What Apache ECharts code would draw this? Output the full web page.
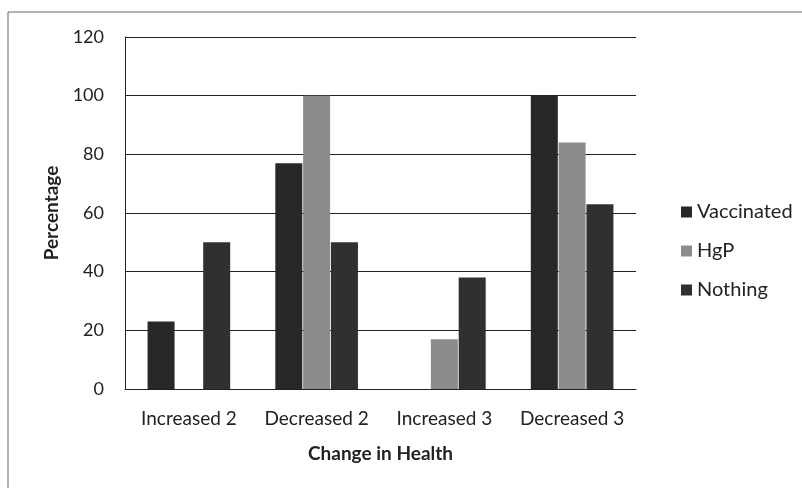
<!DOCTYPE html>
<html><head><meta charset="utf-8">
<script src="https://cdn.jsdelivr.net/npm/echarts@6/dist/echarts.min.js"></script>
<style>html,body{margin:0;padding:0;background:#fff}#c{width:802px;height:488px}</style>
</head><body><div id="c"></div>
<script>
const categories = ['Increased 2', 'Decreased 2', 'Increased 3', 'Decreased 3'];
const vaccinated = [23, 77, 0, 100];
const hgp = [0, 100, 17, 84];
const nothing = [50, 50, 38, 63];
const seriesNames = ['Vaccinated', 'HgP', 'Nothing'];
const colors = ['#282828', '#8c8c8c', '#303030'];
const font = 'Lato, "Open Sans", sans-serif';

const chart = echarts.init(document.getElementById('c'));
const mk = (name, data, i) => ({
  name, type: 'bar', data: data.map(v => v === 0 ? null : v),
  barWidth: 27, barGap: '3%',
  itemStyle: { color: colors[i] }
});
chart.setOption({
  animation: false,
  textStyle: { fontFamily: font },
  graphic: [{ type: 'rect', shape: { x: 8, y: 12, width: 900, height: 600 },
    style: { fill: 'none', stroke: '#666', lineWidth: 1 } }],
  grid: { left: 125, right: 166, top: 37, bottom: 99 },
  legend: {
    orient: 'vertical', left: 676, top: 197, itemGap: 19,
    itemWidth: 11, itemHeight: 11, icon: 'rect',
    textStyle: { fontSize: 20, color: '#222', fontFamily: font },
    data: seriesNames
  },
  xAxis: {
    type: 'category', data: categories,
    name: 'Change in Health', nameLocation: 'middle', nameGap: 55,
    nameTextStyle: { fontSize: 19, fontWeight: 'bold', color: '#222' },
    axisLine: { lineStyle: { color: '#222' } },
    axisTick: { show: false },
    axisLabel: { fontSize: 19, color: '#222', margin: 20, interval: 0 }
  },
  yAxis: {
    type: 'value', min: 0, max: 120, interval: 20,
    name: 'Percentage', nameLocation: 'middle', nameGap: 58,
    nameTextStyle: { fontSize: 19, fontWeight: 'bold', color: '#222' },
    axisLine: { show: true, lineStyle: { color: '#222' } },
    axisTick: { show: false },
    axisLabel: { fontSize: 18, color: '#222', margin: 21 },
    splitLine: { lineStyle: { color: '#222', width: 1 } }
  },
  series: [mk(seriesNames[0], vaccinated, 0), mk(seriesNames[1], hgp, 1), mk(seriesNames[2], nothing, 2)]
});
</script></body></html>
